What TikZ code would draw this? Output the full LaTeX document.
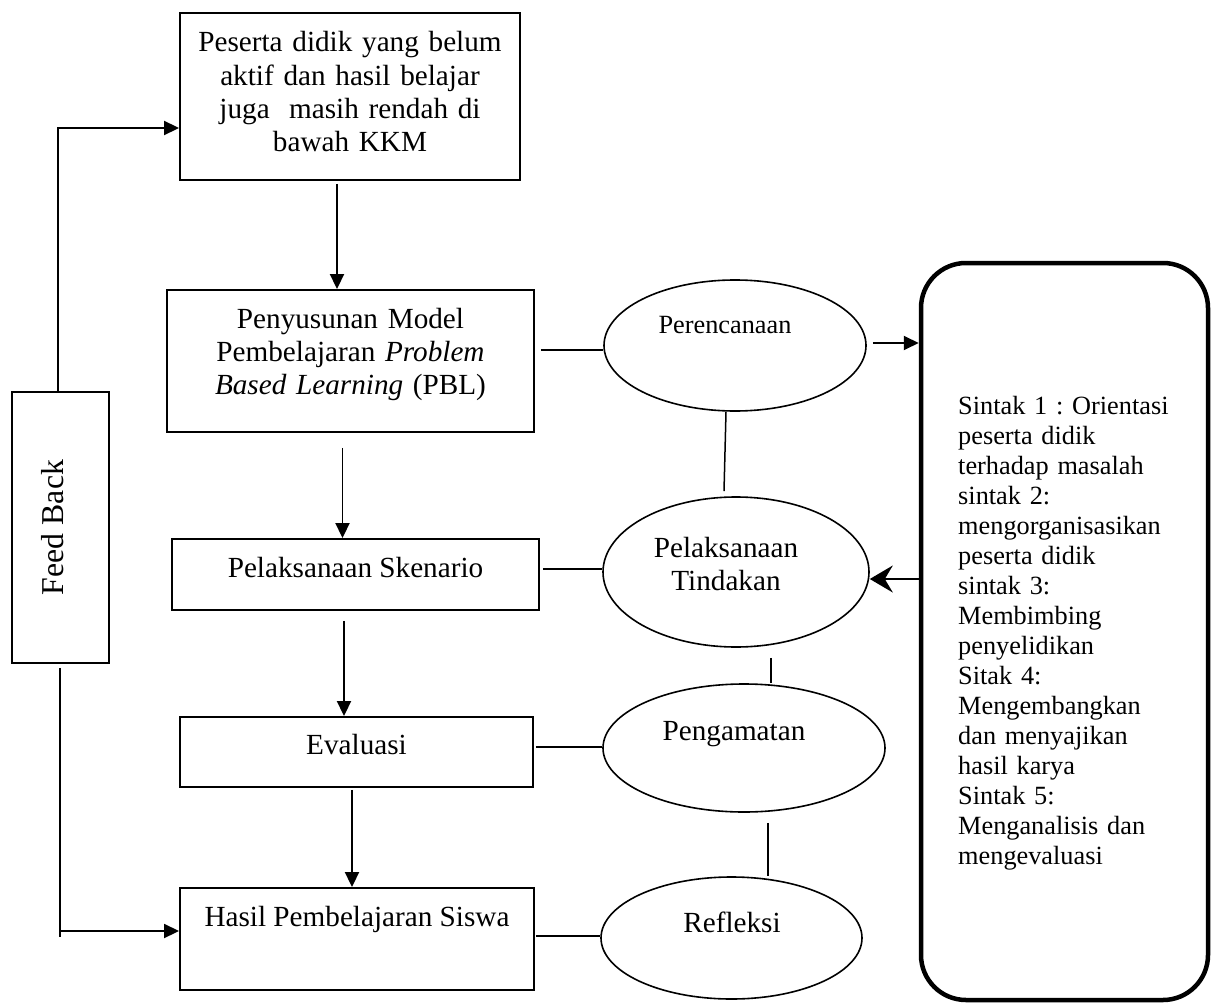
\documentclass[tikz,border=0pt]{standalone}
\usepackage{fontspec}
\setmainfont{Liberation Serif}
\usetikzlibrary{arrows.meta,shapes.geometric,calc}
\frenchspacing
\begin{document}
\begin{tikzpicture}[x=1pt,y=-1pt,
  box/.style 2 args={draw,line width=1.9pt,rectangle,inner sep=0pt,minimum width=#1,minimum height=#2},
  ell/.style 2 args={draw,line width=1.6pt,ellipse,inner sep=0pt,minimum width=#1,minimum height=#2},
  bigtxt/.style={inner sep=0pt,font=\fontsize{29.2}{33.3}\selectfont},
  smalltxt/.style={inner sep=0pt,font=\fontsize{26.3}{30}\selectfont},
  arr/.style={line width=1.9pt,-{Triangle[length=15pt,width=14pt]}},
  sarr/.style={line width=1.9pt,-{Stealth[length=23pt,width=27pt,inset=8pt]}},
  conn/.style={line width=1.9pt},
  thinconn/.style={line width=1.5pt}]
\useasboundingbox (0,0) rectangle (1212,1003);
% boxes
\node[box={340pt}{167pt}] (b1) at (350,96.5) {};
\node[box={367pt}{142pt}] (b2) at (350.5,361) {};
\node[box={367pt}{71pt}] (b3) at (355.5,574.5) {};
\node[box={353pt}{70pt}] (b4) at (356.5,752) {};
\node[box={354pt}{102pt}] (b5) at (357,939) {};
\node[box={97pt}{271pt}] (fb) at (60.5,527.5) {};
\node[draw,line width=4.5pt,rounded corners=45pt,inner sep=0pt,minimum width=287pt,minimum height=737pt] (rb) at (1064.5,631.5) {};
% ellipses
\node[ell={262pt}{131pt}] (e1) at (735,345.5) {};
\node[ell={266pt}{150pt}] (e2) at (736,572) {};
\node[ell={282pt}{128pt}] (e3) at (744,748) {};
\node[ell={261pt}{122pt}] (e4) at (731.5,938) {};
% texts
\node[bigtxt,anchor=base,text width=340pt,align=center] (t1) at (350,52)
  {Peserta didik yang belum\\aktif dan hasil belajar\\juga\ \ masih rendah di\\bawah KKM};
\node[bigtxt,anchor=base,text width=367pt,align=center] (t2) at (350.5,328)
  {Penyusunan Model\\Pembelajaran \textit{Problem}\\\textit{Based Learning} (PBL)};
\node[bigtxt,anchor=base] (t3) at (355.5,577) {Pelaksanaan Skenario};
\node[bigtxt,anchor=base] (t4) at (356.5,754) {Evaluasi};
\node[bigtxt,anchor=base] (t5) at (357,926) {Hasil Pembelajaran Siswa};
\node[inner sep=0pt,font=\fontsize{31.8}{36}\selectfont,anchor=base,rotate=90] (tfb) at (63,527.5) {Feed Back};
\node[smalltxt,anchor=base] (te1) at (725,333) {Perencanaan};
\node[bigtxt,anchor=base,text width=220pt,align=center] (te2) at (726,557) {Pelaksanaan\\Tindakan};
\node[bigtxt,anchor=base] (te3) at (734,740) {Pengamatan};
\node[bigtxt,anchor=base] (te4) at (732,932) {Refleksi};
\node[smalltxt,anchor=base west,text width=245pt,align=left] (trb) at (958,414)
  {Sintak 1 : Orientasi\\peserta didik\\terhadap masalah\\sintak 2:\\mengorganisasikan\\peserta didik\\sintak 3:\\Membimbing\\penyelidikan\\Sitak 4:\\Mengembangkan\\dan menyajikan\\hasil karya\\Sintak 5:\\Menganalisis dan\\mengevaluasi};
% vertical arrows between boxes
\draw[arr] ([xshift=-13pt,yshift=-3pt]b1.south) -- ([xshift=-13pt]b1.south |- b2.north);
\draw[arr] ([xshift=-8pt,yshift=-15pt]b2.south) -- ([xshift=-8pt]b2.south |- b3.north);
\draw[arr] ([xshift=-11.5pt,yshift=-10pt]b3.south) -- ([xshift=-11.5pt]b3.south |- b4.north);
\draw[arr] ([xshift=-4.5pt,yshift=-2pt]b4.south) -- ([xshift=-4.5pt]b4.south |- b5.north);
% feedback loop
\draw[arr] ([xshift=-2.5pt]fb.north) |- ([yshift=-31.5pt]b1.west);
\draw[conn] ([xshift=-0.5pt,yshift=-4pt]fb.south) -- ([xshift=-0.5pt,yshift=2pt]fb.south |- b5.west);
\draw[arr] ([xshift=-0.5pt,yshift=8pt]fb.south |- b5.west) -- ([yshift=8pt]b5.west);
% box to ellipse lines
\draw[thinconn] ([xshift=6pt,yshift=-4.5pt]b2.east |- e1.west) -- ([yshift=-4.5pt]e1.west);
\draw[thinconn] ([xshift=3pt,yshift=3pt]b3.east |- e2.west) -- ([yshift=3pt]e2.west);
\draw[thinconn] ([xshift=2pt,yshift=1pt]b4.east |- e3.west) -- ([yshift=1pt]e3.west);
\draw[thinconn] ([xshift=1pt,yshift=2pt]b5.east |- e4.west) -- ([yshift=2pt]e4.west);
% ellipse to ellipse lines
\draw[thinconn] ([xshift=-9pt]e1.south) -- ([xshift=-12pt,yshift=5pt]e2.north);
\draw[thinconn] ([xshift=35pt,yshift=-10pt]e2.south) -- ([xshift=27pt]e3.north);
\draw[thinconn] ([xshift=24pt,yshift=-10pt]e3.south) -- ([xshift=36.5pt]e4.north);
% arrows with the rounded box
\draw[arr] ([xshift=6pt,yshift=2.5pt]e1.east) -- ([yshift=2.5pt]e1.east -| rb.west);
\draw[sarr] ([yshift=-7pt]e2.east -| rb.west) -- ([yshift=-7pt]e2.east);
\end{tikzpicture}
\end{document}
